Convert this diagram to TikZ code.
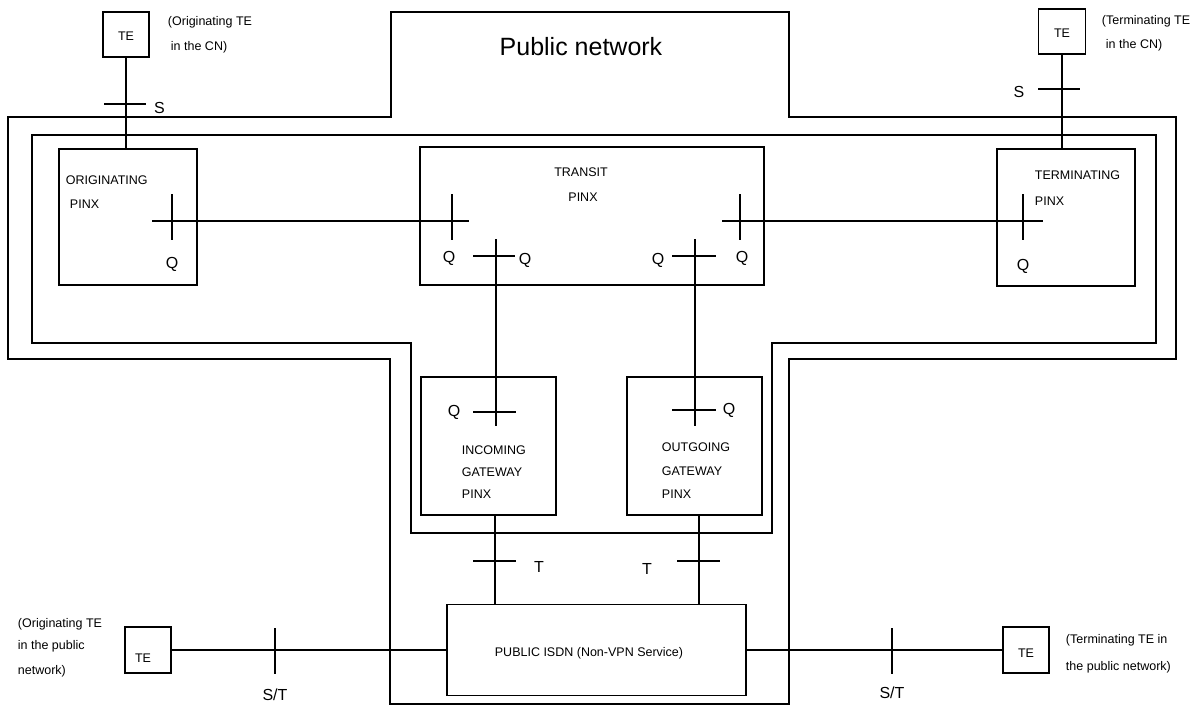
\documentclass[tikz,border=0pt]{standalone}
\usepackage{fontspec}
\setmainfont{Liberation Sans}
\begin{document}
\begin{tikzpicture}[x=1pt,y=-1pt,line width=1.9pt,
  box/.style={draw,line width=1.9pt,inner sep=0pt},
  small/.style={font=\fontsize{12.5}{15}\selectfont,inner sep=0pt,text height=9pt,text depth=0pt},
  iface/.style={font=\fontsize{16}{19}\selectfont,inner sep=0pt,text height=11.5pt,text depth=0pt},
  title/.style={font=\fontsize{25}{30}\selectfont,inner sep=0pt,text height=18pt,text depth=0pt}]
\useasboundingbox (0,0) rectangle (1201,706);

% public network boundary
\draw (391,12) -- (789,12) -- (789,117) -- (1176,117) -- (1176,359) -- (789,359) -- (789,704) -- (390,704) -- (390,359) -- (8,359) -- (8,117) -- (391,117) -- cycle;
% corporate network boundary
\draw (32,135) -- (1156,135) -- (1156,343) -- (772,343) -- (772,533) -- (411,533) -- (411,343) -- (32,343) -- cycle;

\node[title] (pn) at (581,47) {Public network};

% boxes
\node[box,minimum width=46pt,minimum height=45pt] (teA) at (126,34.5) {};
\node[box,minimum width=47pt,minimum height=45pt] (teB) at (1062,31.5) {};
\node[box,minimum width=46pt,minimum height=46pt] (teC) at (148,650) {};
\node[box,minimum width=46pt,minimum height=46pt] (teD) at (1026,650) {};
\node[box,minimum width=138pt,minimum height=136pt] (orig) at (128,217) {};
\node[box,minimum width=344pt,minimum height=138pt] (transit) at (592,216) {};
\node[box,minimum width=138pt,minimum height=137pt] (term) at (1066,217.5) {};
\node[box,minimum width=135pt,minimum height=138pt] (inc) at (488.5,446) {};
\node[box,minimum width=135pt,minimum height=138pt] (out) at (694.5,446) {};
\node[box,minimum width=299pt,minimum height=91pt] (isdn) at (596.5,650) {};

% box texts
\node[small] (teAt) at (126,36) {TE};
\node[small] (teBt) at (1062,33) {TE};
\node[small] (teCt) at (143,658) {TE};
\node[small] (teDt) at (1026,653) {TE};
\node[small,anchor=west] (o1) at (65,180) {ORIGINATING};
\node[small,anchor=west] (o2) at (69,204) {PINX};
\node[small] (tr1) at (581,172) {TRANSIT};
\node[small] (tr2) at (583,197) {PINX};
\node[small,anchor=west] (tm1) at (1034,175) {TERMINATING};
\node[small,anchor=west] (tm2) at (1034,201) {PINX};
\node[small,anchor=west] (in1) at (461,450) {INCOMING};
\node[small,anchor=west] (in2) at (461,472) {GATEWAY};
\node[small,anchor=west] (in3) at (461,494) {PINX};
\node[small,anchor=west] (ou1) at (661,447) {OUTGOING};
\node[small,anchor=west] (ou2) at (661,471) {GATEWAY};
\node[small,anchor=west] (ou3) at (661,494) {PINX};
\node[small] (isdnt) at (589,652) {PUBLIC ISDN (Non-VPN Service)};

% side notes
\node[small,anchor=west] (nA1) at (167,21) {(Originating TE};
\node[small,anchor=west] (nA2) at (170,46) {in the CN)};
\node[small,anchor=west] (nB1) at (1101,20) {(Terminating TE};
\node[small,anchor=west] (nB2) at (1105,44) {in the CN)};
\node[small,anchor=west] (nC1) at (17,623) {(Originating TE};
\node[small,anchor=west] (nC2) at (17,645) {in the public};
\node[small,anchor=west] (nC3) at (17,670) {network)};
\node[small,anchor=west] (nD1) at (1065,639) {(Terminating TE in};
\node[small,anchor=west] (nD2) at (1065,666) {the public network)};

% connectors
\draw (teA.south) -- (teA.south |- orig.north);
\draw (teB.south) -- (teB.south |- term.north);
\coordinate (qa) at (152,221);
\coordinate (qb) at (469,221);
\draw (qa) -- (qb);
\coordinate (qc) at (722,221);
\coordinate (qd) at (1043,221);
\draw (qc) -- (qd);
\coordinate (v1) at (496,239);
\coordinate (v2) at (496,426);
\draw (v1) -- (v2);
\coordinate (v3) at (695,239);
\coordinate (v4) at (695,426);
\draw (v3) -- (v4);
\draw ([xshift=6.5pt]inc.south) -- ([xshift=6.5pt]inc.south |- isdn.north);
\draw ([xshift=4.5pt]out.south) -- ([xshift=4.5pt]out.south |- isdn.north);
\draw (teC.east) -- (teC.east -| isdn.west);
\draw (isdn.east) -- (isdn.east -| teD.west);

% interface ticks
\draw (104,104) -- (146,104);
\draw (1038,89) -- (1080,89);
\draw (172,194) -- (172,240);
\draw (452,194) -- (452,240);
\draw (740,194) -- (740,240);
\draw (1023,194) -- (1023,240);
\draw (473,256) -- (515,256);
\draw (672,256) -- (716,256);
\draw (473,412) -- (516,412);
\draw (672,410) -- (716,410);
\draw (473,561) -- (516,561);
\draw (677,561) -- (720,561);
\draw (275,628) -- (275,674);
\draw (892,628) -- (892,674);

% interface labels
\node[iface] (lS1) at (159.5,108) {S};
\node[iface] (lS2) at (1019,92) {S};
\node[iface] (lQ1) at (172,263) {Q};
\node[iface] (lQ2) at (449,257) {Q};
\node[iface] (lQ3) at (525,259) {Q};
\node[iface] (lQ4) at (658,259) {Q};
\node[iface] (lQ5) at (742,257) {Q};
\node[iface] (lQ6) at (1023,265) {Q};
\node[iface] (lQ7) at (454,411) {Q};
\node[iface] (lQ8) at (729,409) {Q};
\node[iface] (lT1) at (539,567) {T};
\node[iface] (lT2) at (647,569) {T};
\node[iface] (lST1) at (275,695) {S/T};
\node[iface] (lST2) at (892,693) {S/T};
\end{tikzpicture}
\end{document}
